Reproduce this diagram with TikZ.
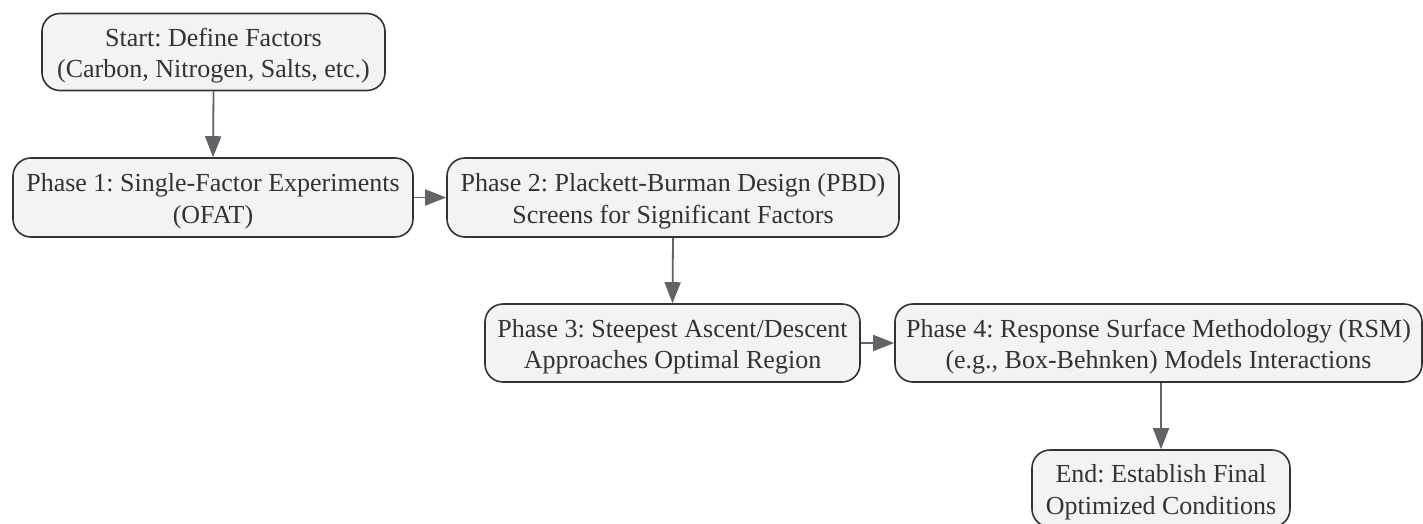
\documentclass[tikz,border=0pt]{standalone}
\usepackage{fontspec}
\setmainfont{Liberation Serif}
\usetikzlibrary{arrows.meta}
\definecolor{boxfill}{HTML}{F2F3F5}
\definecolor{boxline}{HTML}{333333}
\definecolor{arrowcol}{HTML}{606368}
\definecolor{textcol}{HTML}{333333}
\newcommand{\topstrut}{\rule{0pt}{26pt}}
\tikzset{
  flowbox/.style={draw=boxline, fill=boxfill, line width=1.6pt, rounded corners=18pt,
    align=center, text=textcol, inner sep=0pt,
    font=\fontsize{26}{31.5}\selectfont\frenchspacing},
  flowarrow/.style={draw=arrowcol, line width=1.8pt,
    -{Triangle[length=21pt,width=16pt]}, color=arrowcol}
}
\begin{document}
\begin{tikzpicture}[x=1pt,y=-1pt]
\useasboundingbox (0,0) rectangle (1423,523);
\clip (0,0) rectangle (1423,523);
\node[flowbox, minimum width=343pt, minimum height=77pt] (start) at (213.5,52)
  {\topstrut Start: Define Factors\\(Carbon, Nitrogen, Salts, etc.)};
\node[flowbox, minimum width=400pt, minimum height=79pt] (p1) at (213,197.5)
  {\topstrut Phase 1: Single-Factor Experiments\\(OFAT)};
\node[flowbox, minimum width=452pt, minimum height=79pt] (p2) at (673,197.5)
  {\topstrut Phase 2: Plackett-Burman Design (PBD)\\Screens for Significant Factors};
\node[flowbox, minimum width=375pt, minimum height=78pt] (p3) at (672.5,343)
  {\topstrut Phase 3: Steepest Ascent/Descent\\Approaches Optimal Region};
\node[flowbox, minimum width=527pt, minimum height=78pt] (p4) at (1158.5,343)
  {\topstrut Phase 4: Response Surface Methodology (RSM)\\(e.g., Box-Behnken) Models Interactions};
\node[flowbox, minimum width=258pt, minimum height=77pt] (end) at (1161,488.5)
  {\topstrut End: Establish Final\\Optimized Conditions};
\draw[flowarrow] (start.south) -- (p1.north);
\draw[flowarrow] (p1.east) -- (p2.west);
\draw[flowarrow] (p2.south) -- (p3.north);
\draw[flowarrow] (p3.east) -- (p4.west);
\draw[flowarrow] (p4.south -| end.north) -- (end.north);
\end{tikzpicture}
\end{document}
